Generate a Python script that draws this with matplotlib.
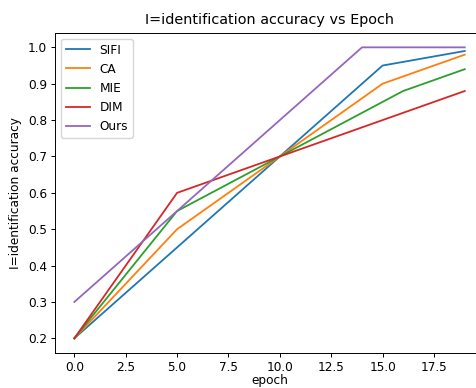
import matplotlib
matplotlib.use("Agg")
import matplotlib.pyplot as plt

sifi_x = [0, 5, 10, 15, 19]
sifi_y = [0.2, 0.45, 0.7, 0.95, 0.99]
ca_x = [0, 5, 10, 15, 19]
ca_y = [0.2, 0.5, 0.7, 0.9, 0.98]
mie_x = [0, 5, 10, 16, 19]
mie_y = [0.2, 0.55, 0.7, 0.88, 0.94]
dim_x = [0, 5, 10, 15, 19]
dim_y = [0.2, 0.6, 0.7, 0.8, 0.88]
ours_x = [0, 5, 10, 14, 19]
ours_y = [0.3, 0.55, 0.8, 1.0, 1.0]

fs = 8.7
plt.rcParams['font.size'] = fs
fig = plt.figure(figsize=(4.77, 3.88), dpi=100)
W, H = 477, 388
left, right, top, bottom = 54.8, 484.3, 32.8, 352.9
ax = fig.add_axes([left / W, 1 - bottom / H, (right - left) / W, (bottom - top) / H])
lw = 1.3
ax.plot(sifi_x, sifi_y, label='SIFI', lw=lw)
ax.plot(ca_x, ca_y, label='CA', lw=lw)
ax.plot(mie_x, mie_y, label='MIE', lw=lw)
ax.plot(dim_x, dim_y, label='DIM', lw=lw)
ax.plot(ours_x, ours_y, label='Ours', lw=lw)
ax.set_xlim(-0.95, 19.95)
ax.set_ylim(0.16, 1.04)
ax.set_xticks([0, 2.5, 5, 7.5, 10, 12.5, 15, 17.5])
ax.set_title('I=identification accuracy vs Epoch', fontsize=10.4)
ax.set_xlabel('epoch', labelpad=0.5)
ax.set_ylabel('I=identification accuracy')
ax.legend(loc='upper left')
for s in ax.spines.values():
    s.set_linewidth(0.7)
ax.tick_params(width=0.7, length=3, pad=2.5)
fig.savefig('out.png', dpi=100)
